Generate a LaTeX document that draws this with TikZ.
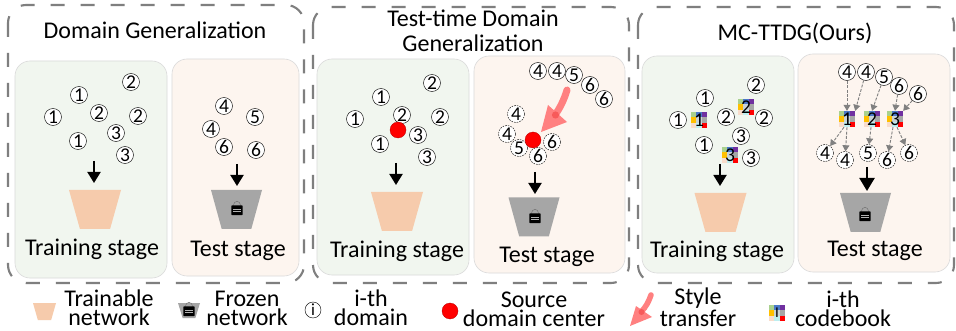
\documentclass[tikz,border=0pt]{standalone}
\usepackage{fontspec}
\setmainfont{Carlito}
\usetikzlibrary{arrows.meta,calc}
\definecolor{trainbg}{HTML}{F1F6EF}
\definecolor{testbg}{HTML}{FDF5EF}
\definecolor{panelline}{HTML}{DADADA}
\definecolor{peach}{HTML}{F6CBAC}
\definecolor{frozen}{HTML}{A6A6A6}
\definecolor{pinkarrow}{HTML}{FF8080}
\definecolor{pinkdark}{HTML}{F75A5A}
\definecolor{outerdash}{HTML}{7F7F7F}
\definecolor{cbA}{HTML}{A9D18E}
\definecolor{cbB}{HTML}{4A78C8}
\definecolor{cbC}{HTML}{7030A0}
\definecolor{cbD}{HTML}{FFC000}
\definecolor{cbE}{HTML}{C9D3D6}
\definecolor{cbF}{HTML}{A6A6A6}
\definecolor{cbG}{HTML}{F8DCCB}
\definecolor{cbH}{HTML}{BDEEF0}
\tikzset{
  x=1pt,y=-1pt,
  outerbox/.style={draw=outerdash,line width=2.1pt,dash pattern=on 14pt off 16pt,rounded corners=18pt},
  trainpanel/.style={draw=panelline,fill=trainbg,line width=.6pt,rounded corners=15pt},
  testpanel/.style={draw=panelline,fill=testbg,line width=.6pt,rounded corners=15pt},
  dom/.style={circle,draw=black,line width=.45pt,fill=white,minimum size=17pt,inner sep=0pt,font=\fontsize{19.5}{19.5}\selectfont},
  domdash/.style={dom,dash pattern=on 1.6pt off 1.1pt},
  redcenter/.style={circle,draw=black!30!red,line width=.3pt,fill=red,minimum size=16pt,inner sep=0pt},
  stagelabel/.style={font=\fontsize{24}{24}\selectfont,inner sep=0pt,anchor=base},
  titlelabel/.style={font=\fontsize{24}{25}\selectfont,inner sep=0pt,anchor=base,align=center},
  legendlabel/.style={font=\fontsize{24}{18.7}\selectfont,inner sep=0pt,anchor=base,align=center},
  bigarrow/.style={draw=black,line width=1.9pt,-{Triangle[length=11pt,width=13pt]}},
  hugearrow/.style={draw=black,line width=2.2pt,-{Triangle[length=13pt,width=15pt]}},
  grayarrow/.style={draw=gray,line width=.9pt,dash pattern=on 3pt off 1.4pt,-{Triangle[length=6pt,width=7pt]}},
  netshape/.style={rectangle,inner sep=0pt,outer sep=0pt,
    path picture={
      \fill[#1] (path picture bounding box.north west) -- (path picture bounding box.north east)
        -- ($(path picture bounding box.south east)!.21!(path picture bounding box.south west)$)
        -- ($(path picture bounding box.south west)!.21!(path picture bounding box.south east)$) -- cycle;
    }},
  trainnet/.style={netshape=peach,minimum width=52pt,minimum height=39pt},
  frozennet/.style={netshape=frozen,minimum width=51pt,minimum height=39pt},
  codebook/.style={rectangle,minimum size=16pt,inner sep=0pt,font=\fontsize{19.5}{19.5}\selectfont,
    path picture={
      \foreach \c/\i/\j in {cbA/0/0,cbB/1/0,cbC/2/0,cbD/0/1,cbE/1/1,cbF/2/1,cbG/0/2,cbH/1/2,red/2/2}{
        \fill[\c] ($(path picture bounding box.north west)+(\i*5.333,\j*5.333)$) rectangle ++(5.4,5.4);
      }
    }},
  pics/lockicon/.style={code={
    \draw[draw=black!55,line width=.5pt] (-3.4,-3.5) -- (-3.4,-5.2) arc[start angle=180,end angle=360,radius=3.4] -- (3.4,-3.5);
    \fill[black,rounded corners=.6pt] (-5.6,-4.6) rectangle (5.6,5.2);
    \draw[gray!60,line width=.5pt] (-3.6,-1) -- (3.6,-1) (-3.6,1.4) -- (3.6,1.4);
  }},
}
\begin{document}
\begin{tikzpicture}
\useasboundingbox (0,0) rectangle (956,331);
\fill[white] (0,0) rectangle (956,331);
% ---- outer dashed boxes
\draw[outerbox] (8,5) rectangle (304,283);
\draw[outerbox] (313,7) rectangle (629,283);
\draw[outerbox] (638,7) rectangle (954,283);
% ---- panels
\draw[trainpanel] (15,61) rectangle (167,278);
\draw[testpanel] (172,59) rectangle (299,276);
\draw[trainpanel] (317,59) rectangle (469,275);
\draw[testpanel] (474,56) rectangle (625,273);
\draw[trainpanel] (642,56) rectangle (794,273);
\draw[testpanel] (798,54) rectangle (950,272);
% ---- titles
\node[titlelabel] (t1) at (155,39) {Domain Generalization};
\node[titlelabel] (t2) at (473,52) {Test-time Domain\\Generalization};
\node[titlelabel] (t3) at (795,41) {MC-TTDG(Ours)};
% ---- panel 1 train
\node[dom] (a1) at (131,82) {2};
\node[dom] (a2) at (79,95) {1};
\node[dom] (a3) at (53,117) {1};
\node[dom] (a4) at (99,113) {2};
\node[dom] (a5) at (138,116) {2};
\node[dom] (a6) at (116,133) {3};
\node[dom] (a7) at (78,141) {1};
\node[dom] (a8) at (125,155) {3};
\node[trainnet] (n1) at (95,209.5) {};
\coordinate (s1) at (94,161);
\draw[bigarrow] (s1) -- (s1 |- 0,183);
\node[stagelabel] (l1) at (92,255) {Training stage};
% ---- panel 1 test
\node[dom] (b1) at (224,106) {4};
\node[dom] (b2) at (255,117) {5};
\node[dom] (b3) at (211,129) {4};
\node[dom] (b4) at (224,147) {6};
\node[dom] (b5) at (256,150) {6};
\node[frozennet] (n2) at (236.5,209.5) {};
\pic at (237,210) {lockicon};
\coordinate (s2) at (237,164);
\draw[bigarrow] (s2) -- (s2 |- 0,186);
\node[stagelabel] (l2) at (238,257) {Test stage};
% ---- panel 2 train
\node[dom] (c1) at (432,83) {2};
\node[dom] (c2) at (381,97) {1};
\node[dom] (c3) at (355,119) {1};
\node[dom] (c4) at (402,115) {2};
\node[dom] (c5) at (440,117) {2};
\node[dom] (c6) at (418,135) {3};
\node[dom] (c7) at (380,144) {1};
\node[dom] (c8) at (427,157) {3};
\node[redcenter] (cr) at (398,130) {};
\node[trainnet] (n3) at (397,211.5) {};
\coordinate (s3) at (396,163);
\draw[bigarrow] (s3) -- (s3 |- 0,185);
\node[stagelabel] (l3) at (397,258) {Training stage};
% ---- panel 2 test
\node[dom] (d1) at (538,71) {4};
\node[dom] (d2) at (557,71) {4};
\node[dom] (d3) at (574,75) {5};
\node[dom] (d4) at (590,85) {6};
\node[dom] (d5) at (604,99) {6};
\node[domdash] (d6) at (516,114) {4};
\node[domdash] (d7) at (507,134) {4};
\node[domdash] (d8) at (552,142) {6};
\node[domdash] (d9) at (519,148) {5};
\node[domdash] (d10) at (538,156) {6};
\node[redcenter] (dr) at (533,140) {};
\fill[pinkarrow] (541,132) -- (548,105) -- (567,122) -- cycle;
\draw[pinkarrow,line width=7pt,line cap=round] (567,90) .. controls (564,100) and (560,108) .. (555,115);
\fill[pinkdark] (555.5,115) circle[radius=3.6];
\node[frozennet] (n4) at (534,217) {};
\pic at (535,218) {lockicon};
\coordinate (s4) at (535,172);
\draw[bigarrow] (s4) -- (s4 |- 0,194);
\node[stagelabel] (l4) at (547,262) {Test stage};
% ---- panel 3 train
\node[dom] (e1) at (756,85) {2};
\node[dom] (e2) at (705,98) {1};
\node[dom] (e3) at (678,120) {1};
\node[dom] (e4) at (726,117) {2};
\node[dom] (e5) at (764,118) {2};
\node[dom] (e6) at (741,136) {3};
\node[dom] (e7) at (704,145) {1};
\node[dom] (e8) at (751,158) {3};
\node[codebook] (ec1) at (699,120) {1};
\node[codebook] (ec2) at (746,107) {2};
\node[codebook] (ec3) at (730,155) {3};
\node[trainnet] (n5) at (720.5,212.5) {};
\coordinate (s5) at (720,164);
\draw[bigarrow] (s5) -- (s5 |- 0,186);
\node[stagelabel] (l5) at (717,258) {Training stage};
% ---- panel 3 test
\node[dom] (f1) at (847,72) {4};
\node[dom] (f2) at (866,72) {4};
\node[dom] (f3) at (884,77) {5};
\node[dom] (f4) at (899,86) {6};
\node[dom] (f5) at (918,94) {6};
\node[codebook] (g1) at (847,119) {1};
\node[codebook] (g2) at (872,119) {2};
\node[codebook] (g3) at (895,119) {3};
\node[domdash] (h1) at (825,153) {4};
\node[domdash] (h2) at (845,160) {4};
\node[domdash] (h3) at (868,153) {5};
\node[domdash] (h4) at (887,160) {6};
\node[domdash] (h5) at (909,153) {6};
\draw[grayarrow] (f1) -- (g1.north);
\draw[grayarrow] (f2) -- (g1.north east);
\draw[grayarrow] (f3) -- (g2.north);
\draw[grayarrow] (f4) -- (g3.north);
\draw[grayarrow] (f5) -- (g3.north east);
\draw[grayarrow] ([xshift=-3pt]g1.south) -- (h1);
\draw[grayarrow] (g1.south) -- (h2);
\draw[grayarrow] (g2) -- (h3);
\draw[grayarrow] ([xshift=-2pt]g3.south) -- (h4);
\draw[grayarrow] ([xshift=2pt]g3.south) -- (h5);
\node[frozennet] (n6) at (865.5,212.5) {};
\pic at (865,216) {lockicon};
\coordinate (s6) at (867,167);
\draw[hugearrow] (s6) -- (s6 |- 0,191);
\node[stagelabel] (l6) at (875,257) {Test stage};
% ---- legend
\node[netshape=peach,minimum width=23pt,minimum height=17pt] (k1) at (44.5,311.5) {};
\node[legendlabel] (k1a) at (109,325.5) {Trainable\\network};
\node[netshape=frozen,minimum width=22pt,minimum height=15pt] (k2) at (189,310.5) {};
\begin{scope}[shift={(189,311)},scale=.5]
\pic {lockicon};
\end{scope}
\node[legendlabel] (k2a) at (247,325) {Frozen\\network};
\node[dom,minimum size=16pt,font=\fontsize{17}{17}\selectfont] (k3) at (313,310) {i};
\node[legendlabel] (k3a) at (371,325) {i-th\\domain};
\node[redcenter] (k4) at (450,311) {};
\node[legendlabel] (k4a) at (534,326) {Source\\domain center};
\fill[pinkarrow] (630,326) -- (636,306) -- (652,317) -- cycle;
\draw[pinkarrow,line width=5.5pt,line cap=round] (651,295) .. controls (649,301) and (646,307) .. (641,312);
\fill[pinkdark] (641.5,312) circle[radius=3];
\node[legendlabel] (k5a) at (698,326) {Style\\transfer};
\node[codebook,font=\fontsize{15}{15}\selectfont] (k6) at (777,313) {I};
\node[legendlabel] (k6a) at (843,326) {i-th\\codebook};
\end{tikzpicture}
\end{document}
